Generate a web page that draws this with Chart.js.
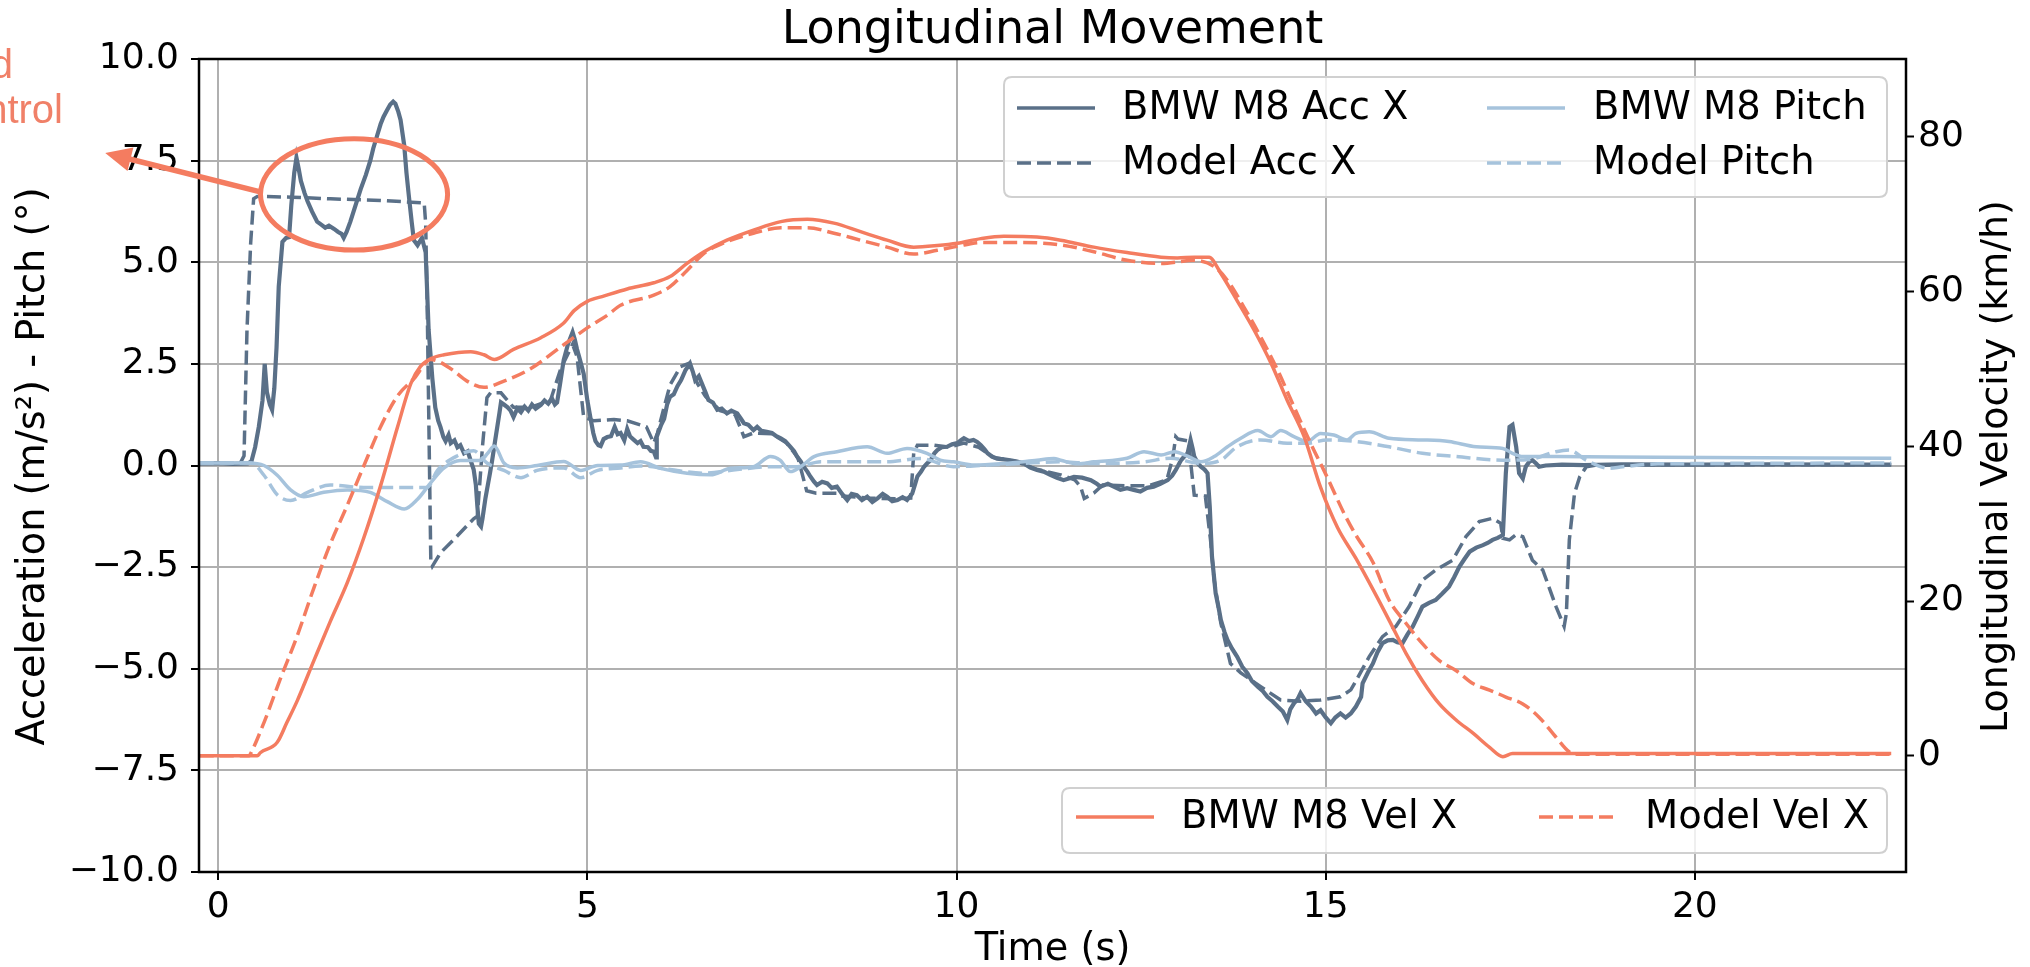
<!DOCTYPE html>
<html>
<head>
<meta charset="utf-8">
<script src="https://cdn.jsdelivr.net/npm/chart.js@4.4.1/dist/chart.umd.min.js"></script>
<style>
html,body{margin:0;padding:0;background:#ffffff;overflow:hidden;}
canvas{display:block;}
</style>
</head>
<body>
<canvas id="c" width="2030" height="967"></canvas>
<script>
// ---------------- DATA ----------------
const TITLE = 'Longitudinal Movement';
const xTicks = [0, 5, 10, 15, 20];
const yTicks = [-10, -7.5, -5, -2.5, 0, 2.5, 5, 7.5, 10];
const y2Ticks = [0, 20, 40, 60, 80];

// BMW M8 Acc X (m/s²)
const accBmwT = [-0.25,0.0,0.2,0.4,0.45,0.5,0.55,0.6,0.63,0.66,0.7,0.73,0.76,0.79,0.82,0.87,0.92,0.96,0.99,1.03,1.06,1.09,1.12,1.17,1.21,1.27,1.34,1.4,1.45,1.5,1.57,1.62,1.67,1.7,1.74,1.79,1.86,1.93,2.0,2.06,2.1,2.15,2.2,2.24,2.29,2.33,2.37,2.4,2.44,2.47,2.52,2.55,2.58,2.62,2.65,2.7,2.76,2.81,2.85,2.9,2.94,2.98,3.01,3.05,3.08,3.12,3.15,3.2,3.24,3.28,3.33,3.38,3.42,3.46,3.49,3.51,3.53,3.56,3.58,3.62,3.64,3.68,3.71,3.75,3.78,3.81,3.83,3.87,3.92,3.96,4.0,4.05,4.1,4.15,4.2,4.25,4.3,4.37,4.42,4.47,4.52,4.56,4.59,4.63,4.68,4.74,4.8,4.83,4.86,4.9,4.95,5.0,5.04,5.08,5.11,5.15,5.18,5.22,5.27,5.32,5.37,5.41,5.45,5.5,5.54,5.58,5.63,5.68,5.72,5.76,5.82,5.86,5.9,5.93,5.94,6.0,6.04,6.08,6.12,6.17,6.22,6.27,6.33,6.39,6.43,6.46,6.51,6.55,6.6,6.64,6.7,6.76,6.82,6.89,6.95,7.03,7.08,7.12,7.18,7.25,7.3,7.36,7.43,7.5,7.56,7.62,7.68,7.75,7.8,7.84,7.89,7.93,7.98,8.02,8.07,8.11,8.18,8.25,8.31,8.38,8.45,8.52,8.58,8.65,8.72,8.79,8.86,8.93,9.0,9.06,9.13,9.2,9.27,9.33,9.4,9.44,9.47,9.52,9.56,9.6,9.65,9.7,9.74,9.8,9.87,9.94,10.01,10.06,10.1,10.17,10.23,10.28,10.33,10.38,10.42,10.48,10.55,10.64,10.73,10.82,10.91,11.0,11.09,11.18,11.27,11.36,11.45,11.59,11.7,11.82,11.9,11.95,12.05,12.13,12.22,12.31,12.4,12.49,12.58,12.67,12.76,12.86,12.92,12.97,13.04,13.1,13.13,13.17,13.2,13.22,13.27,13.31,13.36,13.4,13.43,13.46,13.51,13.55,13.58,13.63,13.67,13.73,13.8,13.87,13.94,14.0,14.08,14.15,14.21,14.28,14.35,14.42,14.48,14.52,14.57,14.62,14.66,14.73,14.8,14.87,14.93,15.0,15.07,15.13,15.2,15.27,15.34,15.41,15.48,15.5,15.57,15.64,15.7,15.77,15.84,15.91,15.97,16.04,16.11,16.18,16.25,16.31,16.4,16.49,16.58,16.67,16.74,16.81,16.88,16.95,17.04,17.13,17.2,17.26,17.33,17.4,17.44,17.49,17.53,17.58,17.62,17.67,17.71,17.76,17.8,17.85,17.89,17.98,18.2,18.5,19.0,20.0,21.0,22.0,22.66];
const accBmwV = [0.05,0.06,0.04,0.05,0.1,0.45,0.95,1.6,2.5,1.8,1.5,1.37,1.9,2.9,4.4,5.5,5.6,5.62,6.4,7.2,7.57,7.3,7.0,6.7,6.5,6.25,6.0,5.92,5.85,5.9,5.82,5.75,5.7,5.6,5.75,6.0,6.4,6.8,7.15,7.5,7.8,8.1,8.4,8.58,8.75,8.88,8.95,8.9,8.7,8.5,7.87,7.2,6.67,6.0,5.54,5.42,5.6,5.24,3.34,2.15,1.43,1.1,0.95,0.7,0.6,0.75,0.55,0.62,0.45,0.5,0.3,0.35,0.12,-0.1,-0.48,-1.0,-1.43,-1.5,-1.3,-0.8,-0.6,-0.2,0.12,0.6,0.95,1.3,1.55,1.5,1.43,1.35,1.19,1.4,1.31,1.45,1.35,1.5,1.4,1.49,1.6,1.52,1.65,1.5,1.55,2.0,2.6,3.0,3.28,3.1,2.86,2.6,2.26,1.6,1.19,0.8,0.6,0.5,0.48,0.65,0.7,0.72,0.95,0.77,0.8,0.62,0.9,0.71,0.63,0.55,0.6,0.46,0.45,0.36,0.34,0.2,0.71,1.0,1.15,1.5,1.69,1.75,1.95,2.1,2.35,2.51,2.3,2.1,2.2,2.02,1.8,1.61,1.55,1.37,1.4,1.28,1.35,1.28,1.15,1.04,1.0,0.87,0.95,0.85,0.83,0.8,0.72,0.67,0.6,0.46,0.35,0.22,0.1,-0.03,-0.15,-0.27,-0.4,-0.48,-0.4,-0.44,-0.55,-0.52,-0.7,-0.85,-0.7,-0.73,-0.85,-0.77,-0.9,-0.81,-0.7,-0.77,-0.88,-0.85,-0.78,-0.85,-0.69,-0.45,-0.27,-0.15,-0.03,0.05,0.13,0.3,0.38,0.45,0.46,0.52,0.55,0.62,0.67,0.6,0.63,0.58,0.5,0.4,0.3,0.22,0.17,0.15,0.13,0.1,0.05,-0.05,-0.11,-0.15,-0.23,-0.3,-0.36,-0.28,-0.3,-0.36,-0.45,-0.52,-0.45,-0.52,-0.6,-0.56,-0.6,-0.64,-0.55,-0.52,-0.45,-0.36,-0.25,-0.11,0.13,0.25,0.3,0.63,0.4,0.22,0.05,-0.03,-0.1,-0.19,-1.01,-2.24,-3.15,-3.5,-3.8,-4.1,-4.29,-4.5,-4.7,-4.95,-5.11,-5.3,-5.44,-5.55,-5.69,-5.8,-5.93,-6.05,-6.26,-6.0,-5.85,-5.75,-5.6,-5.8,-5.93,-6.1,-6.02,-6.2,-6.34,-6.2,-6.1,-6.2,-6.1,-5.93,-5.69,-5.36,-5.1,-4.87,-4.6,-4.37,-4.3,-4.29,-4.35,-4.37,-4.15,-3.96,-3.7,-3.47,-3.38,-3.31,-3.15,-2.98,-2.75,-2.49,-2.3,-2.12,-2.02,-1.96,-1.9,-1.83,-1.78,-1.71,-0.19,0.95,1.0,0.46,-0.19,-0.32,-0.03,0.1,0.13,0.05,-0.03,0.0,0.02,0.01,0.03,0.02,0.03,0.02,0.02];

// Model Acc X (m/s²)
const accMdlT = [-0.25,0.3,0.35,0.39,0.44,0.48,0.53,1.0,1.52,2.2,2.79,2.81,2.83,2.88,2.9,3.01,3.24,3.46,3.51,3.58,3.64,3.69,3.83,4.0,4.23,4.5,4.64,4.8,4.86,4.95,5.09,5.36,5.54,5.8,5.9,5.95,6.03,6.12,6.26,6.37,6.49,6.6,6.8,7.0,7.08,7.12,7.25,7.5,7.7,7.85,7.97,8.1,8.38,8.45,8.8,9.2,9.38,9.42,9.47,9.7,9.9,10.1,10.3,10.5,10.8,11.1,11.41,11.6,11.68,11.73,11.86,11.98,12.3,12.6,12.85,12.93,12.97,13.0,13.15,13.17,13.22,13.37,13.44,13.49,13.58,13.71,13.85,14.12,14.39,14.66,14.93,15.2,15.34,15.41,15.59,15.77,15.95,16.13,16.31,16.49,16.72,16.9,17.08,17.26,17.37,17.4,17.49,17.58,17.67,17.8,17.94,18.12,18.23,18.26,18.3,18.37,18.44,18.53,18.66,19.5,21.0,22.66];
const accMdlV = [0.05,0.06,0.24,3.34,5.48,6.56,6.62,6.6,6.56,6.52,6.46,5.96,4.05,-2.38,-2.48,-2.15,-1.73,-1.31,-1.25,0.48,1.67,1.79,1.79,1.43,1.43,1.6,2.38,2.98,2.68,1.19,1.1,1.13,1.1,0.95,0.55,0.8,1.37,1.98,2.43,2.51,2.02,1.7,1.35,1.25,0.9,0.71,0.8,0.78,0.55,0.2,-0.62,-0.68,-0.68,-0.75,-0.8,-0.82,-0.8,0.3,0.5,0.5,0.45,0.55,0.45,0.2,0.1,-0.1,-0.23,-0.35,-0.52,-0.81,-0.68,-0.48,-0.5,-0.5,-0.35,0.2,0.71,0.65,0.6,0.1,-0.73,-0.75,-1.83,-2.82,-3.88,-4.87,-5.1,-5.44,-5.77,-5.8,-5.77,-5.69,-5.52,-5.3,-4.7,-4.21,-3.96,-3.47,-2.82,-2.57,-2.33,-1.75,-1.38,-1.3,-1.42,-1.79,-1.83,-1.7,-1.75,-2.33,-2.57,-3.47,-3.96,-3.64,-1.83,-0.69,-0.28,-0.03,0.01,0.02,0.02,0.02];

// BMW M8 Pitch (°)
const pitchBmwT = [-0.25,0.4,0.62,0.8,0.98,1.16,1.43,1.75,2.06,2.29,2.52,2.7,2.88,3.06,3.28,3.55,3.65,3.74,3.87,4.05,4.32,4.68,4.91,5.14,5.45,5.72,5.99,6.35,6.67,6.94,7.25,7.48,7.61,7.75,7.89,8.07,8.38,8.79,9.06,9.33,9.6,9.78,9.96,10.24,10.64,11.09,11.32,11.41,11.64,11.86,12.31,12.54,12.77,12.95,13.13,13.31,13.49,13.67,13.85,14.08,14.26,14.39,14.57,14.75,14.93,15.11,15.29,15.41,15.59,15.86,16.31,16.67,17.04,17.4,17.53,17.67,18.12,19.5,22.66];
const pitchBmwV = [0.06,0.06,0.0,-0.24,-0.6,-0.77,-0.66,-0.6,-0.66,-0.89,-1.07,-0.83,-0.42,-0.06,0.12,0.12,0.3,0.48,0.06,-0.06,0.0,0.1,-0.12,0.0,0.01,0.09,-0.07,-0.19,-0.23,-0.07,-0.03,0.22,0.13,-0.15,-0.03,0.22,0.34,0.46,0.3,0.42,0.3,0.13,0.09,0.01,0.05,0.13,0.17,0.13,0.04,0.09,0.18,0.34,0.26,0.34,0.23,0.09,0.22,0.46,0.67,0.86,0.71,0.86,0.71,0.59,0.79,0.75,0.63,0.79,0.83,0.67,0.63,0.59,0.46,0.42,0.3,0.22,0.22,0.2,0.18];

// Model Pitch (°)
const pitchMdlT = [-0.25,0.45,0.62,0.8,0.98,1.21,1.52,1.97,2.43,2.83,2.97,3.24,3.46,3.64,3.87,4.1,4.32,4.68,4.91,5.14,5.45,5.72,6.12,6.58,7.03,7.48,7.84,8.16,8.61,9.06,9.51,9.96,10.42,10.87,11.41,11.86,12.54,12.9,13.31,13.58,13.8,14.12,14.48,14.75,15.02,15.41,15.86,16.31,16.77,17.4,17.76,18.12,18.3,18.53,18.84,19.02,19.5,22.66];
const pitchMdlV = [0.06,0.06,-0.24,-0.72,-0.86,-0.66,-0.48,-0.54,-0.54,-0.54,-0.12,0.24,0.36,0.06,-0.12,-0.3,-0.12,-0.06,-0.3,-0.12,-0.06,-0.01,-0.1,-0.19,-0.1,-0.03,-0.03,0.09,0.09,0.09,0.17,-0.03,0.01,0.05,0.09,0.05,0.09,0.18,0.05,0.13,0.46,0.63,0.55,0.55,0.63,0.59,0.46,0.3,0.22,0.13,0.15,0.34,0.38,0.13,-0.07,-0.03,0.04,0.06];

// BMW M8 Vel X (km/h)
const velBmwT = [-0.25,0.53,0.57,0.8,0.93,1.07,1.3,1.52,1.75,1.97,2.2,2.43,2.61,2.74,2.88,3.06,3.42,3.6,3.74,4.0,4.37,4.68,4.82,5.0,5.23,5.54,5.9,6.12,6.35,6.58,6.89,7.25,7.62,7.98,8.34,8.7,9.06,9.42,9.74,10.01,10.33,10.64,11.09,11.41,11.86,12.31,12.77,12.99,13.22,13.42,13.58,13.8,14.03,14.26,14.48,14.71,14.93,15.16,15.41,15.64,15.86,16.09,16.31,16.54,16.77,17.0,17.22,17.4,17.53,22.66];
const velBmwV = [0,0,0.4,1.75,4.3,7.1,12.4,17.4,22.4,28.1,34.9,42.5,48.1,50.3,51.3,51.8,52.2,51.8,51.2,52.5,54.0,55.9,57.5,58.7,59.4,60.3,61.1,61.9,63.6,65.1,66.6,67.9,69.0,69.3,68.8,67.7,66.6,65.7,65.9,66.2,66.8,67.1,67.0,66.6,65.7,65.0,64.4,64.3,64.4,64.4,62.3,58.8,55.0,50.7,45.9,41.2,34.7,29.5,25.5,21.5,17.5,13.2,9.7,6.7,4.6,2.9,1.1,-0.1,0.3,0.3];

// Model Vel X (km/h)
const velMdlT = [-0.25,0.42,0.44,0.62,0.84,1.07,1.3,1.52,1.75,1.97,2.2,2.43,2.65,2.88,3.15,3.37,3.6,3.87,4.23,4.68,5.05,5.27,5.45,5.9,6.12,6.35,6.58,6.89,7.25,7.62,7.98,8.34,8.7,9.06,9.42,9.74,10.01,10.33,10.87,11.41,11.86,12.31,12.77,13.22,13.49,13.67,13.89,14.12,14.35,14.57,14.8,15.02,15.25,15.41,15.64,15.86,16.09,16.31,16.54,16.77,17.0,17.22,17.44,17.67,17.89,18.12,18.3,18.39,22.66];
const velMdlV = [0,0,0.3,4.3,9.9,15.5,21.8,27.4,32.4,37.4,42.5,46.5,48.7,51.2,50.0,48.4,47.6,48.4,50.0,53.1,55.6,56.9,58.2,59.5,60.6,62.7,64.9,66.4,67.5,68.2,68.2,67.5,66.6,65.7,64.8,65.3,65.8,66.3,66.3,66.0,65.1,64.0,63.6,64.0,63.2,61.4,58.0,54.1,49.8,45.1,40.3,36.0,31.3,28.5,25.0,20.1,17.1,14.5,12.3,11.0,9.3,8.5,7.6,6.7,5.0,2.4,0.5,0.2,0.2];

// ---------------- STYLE ----------------
const C_DARK = '#5a7088';
const C_LIGHT = '#a6c3dc';
const C_ORANGE = '#f47c60';
const DASH = [14, 6];
const FONT = '"DejaVu Sans", sans-serif';

function pts(t, v) { return t.map((x, i) => ({ x: x, y: v[i] })); }

const datasets = [
  { label: 'Model Vel X', data: pts(velMdlT, velMdlV), yAxisID: 'y2', borderColor: C_ORANGE, borderDash: DASH, borderWidth: 3.5, cubicInterpolationMode: 'monotone' },
  { label: 'BMW M8 Vel X', data: pts(velBmwT, velBmwV), yAxisID: 'y2', borderColor: C_ORANGE, borderWidth: 3.5, cubicInterpolationMode: 'monotone' },
  { label: 'Model Pitch', data: pts(pitchMdlT, pitchMdlV), yAxisID: 'y', borderColor: C_LIGHT, borderDash: DASH, borderWidth: 3.5, cubicInterpolationMode: 'monotone' },
  { label: 'BMW M8 Pitch', data: pts(pitchBmwT, pitchBmwV), yAxisID: 'y', borderColor: C_LIGHT, borderWidth: 3.5, cubicInterpolationMode: 'monotone' },
  { label: 'Model Acc X', data: pts(accMdlT, accMdlV), yAxisID: 'y', borderColor: C_DARK, borderDash: DASH, borderWidth: 3.5 },
  { label: 'BMW M8 Acc X', data: pts(accBmwT, accBmwV), yAxisID: 'y', borderColor: C_DARK, borderWidth: 4.2 }
];

function fmtLeft(v) { return (v < 0 ? '\u2212' : '') + Math.abs(v).toFixed(1); }

function findDs(chart, label) { return chart.data.datasets.find(d => d.label === label); }

function drawLegend(ctx, chart, box, entries) {
  ctx.save();
  const r = 8;
  ctx.beginPath();
  ctx.moveTo(box.x0 + r, box.y0);
  ctx.lineTo(box.x1 - r, box.y0); ctx.quadraticCurveTo(box.x1, box.y0, box.x1, box.y0 + r);
  ctx.lineTo(box.x1, box.y1 - r); ctx.quadraticCurveTo(box.x1, box.y1, box.x1 - r, box.y1);
  ctx.lineTo(box.x0 + r, box.y1); ctx.quadraticCurveTo(box.x0, box.y1, box.x0, box.y1 - r);
  ctx.lineTo(box.x0, box.y0 + r); ctx.quadraticCurveTo(box.x0, box.y0, box.x0 + r, box.y0);
  ctx.closePath();
  ctx.fillStyle = 'rgba(255,255,255,0.8)';
  ctx.fill();
  ctx.strokeStyle = '#d0d0d0';
  ctx.lineWidth = 2;
  ctx.stroke();
  entries.forEach(e => {
    const ds = findDs(chart, e.label);
    ctx.strokeStyle = ds.borderColor;
    ctx.lineWidth = 3.5;
    ctx.setLineDash(ds.borderDash || []);
    ctx.beginPath();
    ctx.moveTo(e.hx, e.y); ctx.lineTo(e.hx + 78, e.y);
    ctx.stroke();
    ctx.setLineDash([]);
    ctx.fillStyle = '#000';
    ctx.font = '38.5px ' + FONT;
    ctx.textAlign = 'left';
    ctx.textBaseline = 'middle';
    ctx.fillText(ds.label, e.tx, e.y + 1);
  });
  ctx.restore();
}

const extras = {
  id: 'extras',
  afterDraw(chart) {
    const { ctx, chartArea: a, scales } = chart;
    const sx = scales.x, sy = scales.y;
    ctx.save();
    // frame
    ctx.strokeStyle = '#000';
    ctx.lineWidth = 2.5;
    ctx.strokeRect(a.left, a.top, a.right - a.left, a.bottom - a.top);
    // title
    ctx.fillStyle = '#000';
    ctx.font = '46px ' + FONT;
    ctx.textAlign = 'center';
    ctx.textBaseline = 'alphabetic';
    ctx.fillText(TITLE, (a.left + a.right) / 2, 43);
    // axis titles
    ctx.font = '38.3px ' + FONT;
    ctx.fillText('Time (s)', (a.left + a.right) / 2, 960);
    const midY = (a.top + a.bottom) / 2;
    ctx.save();
    ctx.translate(44, midY + 1);
    ctx.rotate(-Math.PI / 2);
    ctx.fillText('Acceleration (m/s\u00B2) - Pitch (\u00B0)', 0, 0);
    ctx.restore();
    ctx.save();
    ctx.font = '38px ' + FONT;
    ctx.translate(2007, midY + 1);
    ctx.rotate(-Math.PI / 2);
    ctx.fillText('Longitudinal Velocity (km/h)', 0, 0);
    ctx.restore();
    // legends
    drawLegend(ctx, chart, { x0: 1004, y0: 77, x1: 1887, y1: 197 }, [
      { label: 'BMW M8 Acc X', hx: 1017, tx: 1122, y: 108 },
      { label: 'Model Acc X', hx: 1017, tx: 1122, y: 163 },
      { label: 'BMW M8 Pitch', hx: 1487, tx: 1593, y: 108 },
      { label: 'Model Pitch', hx: 1487, tx: 1593, y: 163 }
    ]);
    drawLegend(ctx, chart, { x0: 1062, y0: 788, x1: 1887, y1: 853 }, [
      { label: 'BMW M8 Vel X', hx: 1076, tx: 1181, y: 817 },
      { label: 'Model Vel X', hx: 1539, tx: 1645, y: 817 }
    ]);
    // annotation: ellipse + arrow + note
    const cx = sx.getPixelForValue(1.84), cy = sy.getPixelForValue(6.67);
    const rx = sx.getPixelForValue(1.84 + 1.267) - cx;
    const ry = cy - sy.getPixelForValue(6.67 + 1.37);
    ctx.strokeStyle = C_ORANGE;
    ctx.lineWidth = 5;
    ctx.beginPath();
    ctx.ellipse(cx, cy, rx, ry, 0, 0, Math.PI * 2);
    ctx.stroke();
    const x0 = sx.getPixelForValue(0.57), y0 = sy.getPixelForValue(6.73);
    const x1 = sx.getPixelForValue(-1.53), y1 = sy.getPixelForValue(7.69);
    const dx = x0 - x1, dy = y0 - y1, len = Math.hypot(dx, dy);
    const ux = dx / len, uy = dy / len;
    const hl = 26, hw = 12;
    ctx.lineWidth = 5.5;
    ctx.beginPath();
    ctx.moveTo(x0, y0);
    ctx.lineTo(x1 + ux * (hl - 2), y1 + uy * (hl - 2));
    ctx.stroke();
    ctx.fillStyle = C_ORANGE;
    ctx.beginPath();
    ctx.moveTo(x1, y1);
    ctx.lineTo(x1 + ux * hl - uy * hw, y1 + uy * hl + ux * hw);
    ctx.lineTo(x1 + ux * hl + uy * hw, y1 + uy * hl - ux * hw);
    ctx.closePath();
    ctx.fill();
    ctx.fillStyle = '#f08068';
    ctx.font = '40px "Liberation Sans Narrow", "Liberation Sans", sans-serif';
    ctx.textAlign = 'right';
    ctx.textBaseline = 'alphabetic';
    ctx.fillText('Speed', 13, 78);
    ctx.fillText('control', 63, 123);
    ctx.restore();
  }
};

const tickFont = { family: FONT, size: 36 };

new Chart(document.getElementById('c'), {
  type: 'line',
  data: { datasets: datasets },
  options: {
    responsive: false,
    animation: false,
    devicePixelRatio: 1,
    layout: { padding: { top: 59, left: 0, right: 0, bottom: 0 } },
    elements: { point: { radius: 0 }, line: { tension: 0, fill: false } },
    plugins: { legend: { display: false }, tooltip: { enabled: false }, title: { display: false } },
    scales: {
      x: {
        type: 'linear', position: 'bottom', min: -0.26, max: 22.86,
        afterBuildTicks: s => { s.ticks = xTicks.map(v => ({ value: v })); },
        afterFit: s => { s.height = 95; },
        ticks: { font: tickFont, color: '#000', padding: 6, maxRotation: 0, autoSkip: false, callback: v => String(v) },
        grid: { color: '#b0b0b0', lineWidth: 2, tickLength: 8, tickColor: '#000', tickWidth: 2 },
        border: { display: false }
      },
      y: {
        type: 'linear', position: 'left', min: -10, max: 10,
        afterBuildTicks: s => { s.ticks = yTicks.map(v => ({ value: v })); },
        afterFit: s => { s.width = 199; },
        ticks: { font: tickFont, color: '#000', padding: 12, autoSkip: false, callback: v => fmtLeft(v) },
        grid: { color: '#b0b0b0', lineWidth: 2, tickLength: 8, tickColor: '#000', tickWidth: 2 },
        border: { display: false }
      },
      y2: {
        type: 'linear', position: 'right', min: -15, max: 90,
        afterBuildTicks: s => { s.ticks = y2Ticks.map(v => ({ value: v })); },
        afterFit: s => { s.width = 124; },
        ticks: { font: tickFont, color: '#000', padding: 4, autoSkip: false, callback: v => String(v) },
        grid: { drawOnChartArea: false, tickLength: 8, tickColor: '#000', tickWidth: 2 },
        border: { display: false }
      }
    }
  },
  plugins: [extras]
});
</script>
</body>
</html>
